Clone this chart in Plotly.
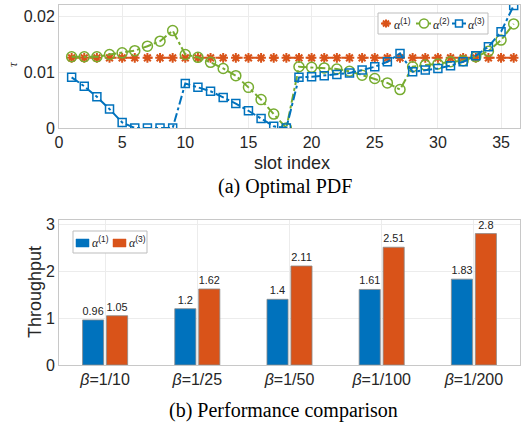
import plotly.graph_objects as go

slots = list(range(1, 37))
alpha1 = [0.0126] * 36
alpha2 = [0.0128, 0.0128, 0.0128, 0.0132, 0.0135, 0.0139, 0.0147, 0.0156, 0.0175,
          0.0132, 0.0127, 0.0118, 0.0107, 0.0094, 0.0073, 0.0051, 0.0025, 0.0000,
          0.0110, 0.0109, 0.0108, 0.0106, 0.0102, 0.0095, 0.0089, 0.0081, 0.0069,
          0.0110, 0.0113, 0.0115, 0.0119, 0.0121, 0.0128, 0.0138, 0.0158, 0.0187]
alpha3 = [0.0091, 0.0075, 0.0056, 0.0034, 0.0010, 0.0000, 0.0000, 0.0000, 0.0000,
          0.0080, 0.0073, 0.0066, 0.0055, 0.0044, 0.0031, 0.0017, 0.0003, 0.0000,
          0.0091, 0.0092, 0.0094, 0.0096, 0.0099, 0.0104, 0.0110, 0.0119, 0.0134,
          0.0101, 0.0104, 0.0107, 0.0112, 0.0119, 0.0130, 0.0146, 0.0173, 0.0220]

beta_labels = ["<i>β</i>=1/10", "<i>β</i>=1/25", "<i>β</i>=1/50", "<i>β</i>=1/100", "<i>β</i>=1/200"]
tp_alpha1 = [0.96, 1.2, 1.4, 1.61, 1.83]
tp_alpha3 = [1.05, 1.62, 2.11, 2.51, 2.8]
tp_alpha1_txt = ["0.96", "1.2", "1.4", "1.61", "1.83"]
tp_alpha3_txt = ["1.05", "1.62", "2.11", "2.51", "2.8"]

BLUE = "#0072BD"
ORANGE = "#D95319"
GREEN = "#77AC30"
SANS = "Liberation Sans, Arial, sans-serif"
SERIF = "Liberation Serif, Times New Roman, serif"
W, H = 522, 425


def px(x):
    return x / W


def py(y):
    return 1 - y / H


def alpha_label(k):
    return "<span style='font-family:Liberation Serif'><i>α</i></span><sup>(%d)</sup>" % k


fig = go.Figure()
fig.add_trace(go.Scatter(x=slots, y=alpha1, mode="lines+markers", name="alpha1",
                         line=dict(color=ORANGE, width=2, dash="dash"),
                         marker=dict(symbol="asterisk-open", size=8, color=ORANGE, line=dict(color=ORANGE, width=2)),
                         xaxis="x", yaxis="y"))
fig.add_trace(go.Scatter(x=slots, y=alpha2, mode="lines+markers", name="alpha2",
                         line=dict(color=GREEN, width=2, dash="dashdot"),
                         marker=dict(symbol="circle-open", size=10, color=GREEN, line=dict(color=GREEN, width=1.5)),
                         xaxis="x", yaxis="y"))
fig.add_trace(go.Scatter(x=slots, y=alpha3, mode="lines+markers", name="alpha3",
                         line=dict(color=BLUE, width=2, dash="dashdot"),
                         marker=dict(symbol="square-open", size=8, color=BLUE, line=dict(color=BLUE, width=1.5)),
                         xaxis="x", yaxis="y"))

fig.add_trace(go.Bar(x=beta_labels, y=tp_alpha1, name="alpha1",
                     marker=dict(color=BLUE, line=dict(color="#8a8a8a", width=0.8)),
                     text=tp_alpha1_txt, textposition="outside", textangle=0,
                     textfont=dict(family=SANS, size=11, color="#222"),
                     cliponaxis=False, xaxis="x2", yaxis="y2"))
fig.add_trace(go.Bar(x=beta_labels, y=tp_alpha3, name="alpha3",
                     marker=dict(color=ORANGE, line=dict(color="#8a8a8a", width=0.8)),
                     text=tp_alpha3_txt, textposition="outside", textangle=0,
                     textfont=dict(family=SANS, size=11, color="#222"),
                     cliponaxis=False, xaxis="x2", yaxis="y2"))

axis_common = dict(showline=True, linecolor="#c8c8c8", linewidth=1, mirror=True,
                   showgrid=True, gridcolor="#ececec", gridwidth=1, zeroline=False,
                   ticks="", tickfont=dict(family=SANS, size=16, color="#262626"))

# ---- manual legends (decorations in paper coordinates) ----
shapes = []
annotations = []
shapes.append(dict(type="rect", xref="paper", yref="paper", x0=px(378), x1=px(488), y0=py(34), y1=py(13),
                   line=dict(color="#bdbdbd", width=1), fillcolor="white", layer="above"))
ly = 23.5
shapes.append(dict(type="line", xref="paper", yref="paper", x0=px(381), x1=px(391), y0=py(ly), y1=py(ly),
                   line=dict(color=ORANGE, width=2), layer="above"))
cx, r = 386, 4
ast_path = ("M {a} {b} L {c} {d} M {e} {f} L {g} {h} M {i} {j} L {k} {l} M {m} {n} L {o} {p}").format(
    a=px(cx - r), b=py(ly), c=px(cx + r), d=py(ly),
    e=px(cx), f=py(ly - r), g=px(cx), h=py(ly + r),
    i=px(cx - 3), j=py(ly - 3), k=px(cx + 3), l=py(ly + 3),
    m=px(cx - 3), n=py(ly + 3), o=px(cx + 3), p=py(ly - 3))
shapes.append(dict(type="path", xref="paper", yref="paper", path=ast_path,
                   line=dict(color=ORANGE, width=2), layer="above"))
shapes.append(dict(type="line", xref="paper", yref="paper", x0=px(416), x1=px(431), y0=py(ly), y1=py(ly),
                   line=dict(color=GREEN, width=2), layer="above"))
shapes.append(dict(type="circle", xref="paper", yref="paper", x0=px(419.5), x1=px(428.5), y0=py(ly + 4.5),
                   y1=py(ly - 4.5), line=dict(color=GREEN, width=1.5), fillcolor="white", layer="above"))
shapes.append(dict(type="line", xref="paper", yref="paper", x0=px(452), x1=px(466), y0=py(ly), y1=py(ly),
                   line=dict(color=BLUE, width=2), layer="above"))
shapes.append(dict(type="rect", xref="paper", yref="paper", x0=px(455.5), x1=px(462.5), y0=py(ly + 3.5),
                   y1=py(ly - 3.5), line=dict(color=BLUE, width=1.5), fillcolor="white", layer="above"))
for k, xl in ((1, 392), (2, 431), (3, 466)):
    annotations.append(dict(text=alpha_label(k), x=px(xl), y=py(ly), xanchor="left", yanchor="middle",
                            xref="paper", yref="paper", showarrow=False,
                            font=dict(family=SANS, size=12, color="#222")))

shapes.append(dict(type="rect", xref="paper", yref="paper", x0=px(73), x1=px(147), y0=py(253), y1=py(231),
                   line=dict(color="#bdbdbd", width=1), fillcolor="white", layer="above"))
shapes.append(dict(type="rect", xref="paper", yref="paper", x0=px(76), x1=px(89), y0=py(247), y1=py(239),
                   line=dict(color=BLUE, width=0.5), fillcolor=BLUE, layer="above"))
shapes.append(dict(type="rect", xref="paper", yref="paper", x0=px(113), x1=px(126), y0=py(247), y1=py(239),
                   line=dict(color=ORANGE, width=0.5), fillcolor=ORANGE, layer="above"))
for k, xl in ((1, 89.5), (3, 126.5)):
    annotations.append(dict(text=alpha_label(k), x=px(xl), y=py(242), xanchor="left", yanchor="middle",
                            xref="paper", yref="paper", showarrow=False,
                            font=dict(family=SANS, size=12, color="#222")))

annotations += [
    dict(text="<i>τ</i>", x=px(12), y=py(64), textangle=-90,
         font=dict(family=SERIF, size=13, color="#262626")),
    dict(text="slot index", x=px(292), y=py(163),
         font=dict(family=SANS, size=18, color="#262626")),
    dict(text="(a) Optimal PDF", x=px(285), y=py(187),
         font=dict(family=SERIF, size=20, color="black")),
    dict(text="Throughput", x=px(35), y=py(292), textangle=-90,
         font=dict(family=SANS, size=18, color="#262626")),
    dict(text="(b) Performance comparison", x=px(283), y=py(410),
         font=dict(family=SERIF, size=20, color="black")),
]
for a in annotations[-5:]:
    a.update(xref="paper", yref="paper", showarrow=False, xanchor="center", yanchor="middle")

fig.update_layout(
    width=W, height=H,
    margin=dict(l=0, r=0, t=0, b=0, autoexpand=False),
    paper_bgcolor="white", plot_bgcolor="white",
    showlegend=False,
    barmode="group", bargap=0.48, bargroupgap=0.12,
    xaxis=dict(domain=[px(59), px(520)], range=[0, 36.5], tickvals=[0, 5, 10, 15, 20, 25, 30, 35],
               anchor="y", **axis_common),
    yaxis=dict(domain=[py(128), py(5)], range=[0, 0.0221], tickvals=[0, 0.01, 0.02],
               ticktext=["0", "0.01", "0.02"], anchor="x", **axis_common),
    xaxis2=dict(domain=[px(59), px(520)], anchor="y2", **axis_common),
    yaxis2=dict(domain=[py(365), py(220)], range=[0, 3.09], tickvals=[0, 1, 2, 3], anchor="x2", **axis_common),
    shapes=shapes,
    annotations=annotations,
)

fig.write_html("out.html", config={"displayModeBar": False},
               post_script="document.body.style.margin='0';document.body.style.overflow='hidden';")
